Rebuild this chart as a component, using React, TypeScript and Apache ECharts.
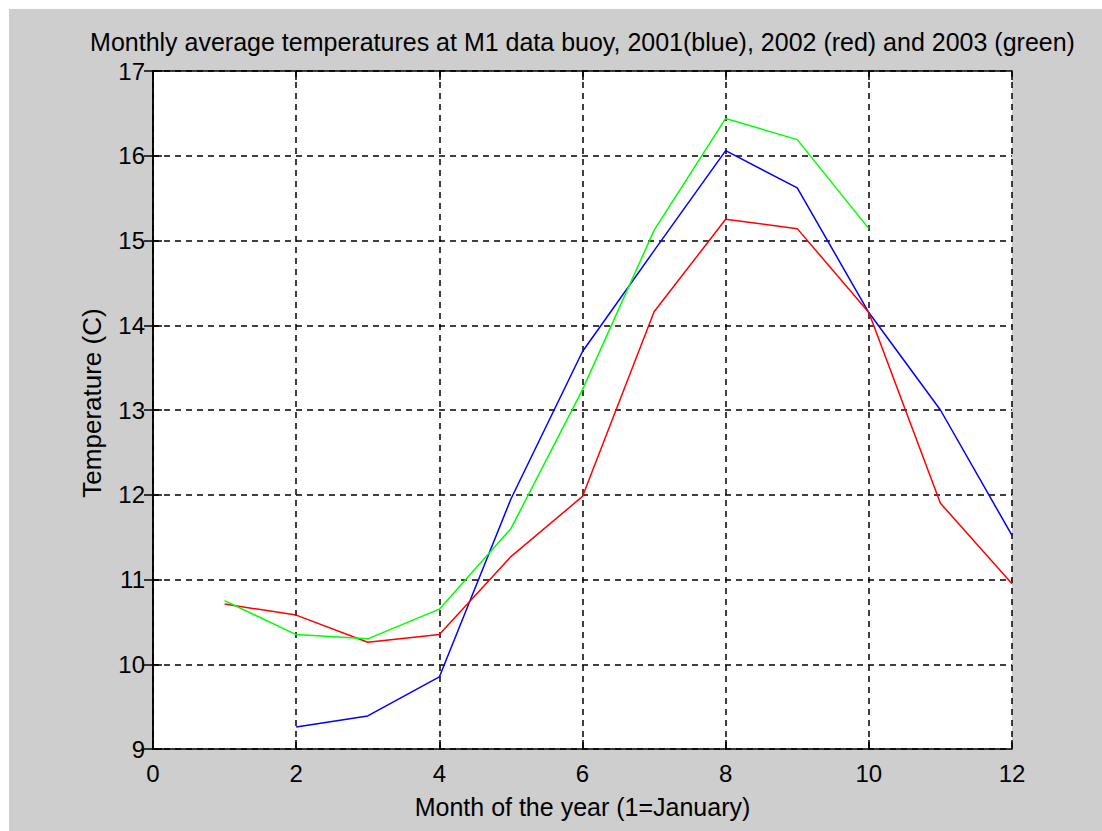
import React, { useEffect, useRef } from "react";
import * as echarts from "echarts";

const months2001 = [2, 3, 4, 5, 6, 7, 8, 9, 10, 11, 12];
const temps2001 = [9.26, 9.39, 9.85, 11.95, 13.69, 14.88, 16.06, 15.62, 14.15, 13.0, 11.52];
const months2002 = [1, 2, 3, 4, 5, 6, 7, 8, 9, 10, 11, 12];
const temps2002 = [10.71, 10.58, 10.26, 10.35, 11.27, 11.98, 14.16, 15.25, 15.14, 14.15, 11.9, 10.95];
const months2003 = [1, 2, 3, 4, 5, 6, 7, 8, 9, 10];
const temps2003 = [10.75, 10.35, 10.3, 10.65, 11.6, 13.24, 15.12, 16.44, 16.19, 15.14];

const titleText =
  "Monthly average temperatures at M1 data buoy, 2001(blue), 2002 (red) and 2003 (green)";
const xName = "Month of the year (1=January)";
const yName = "Temperature (C)";

const pairs = (xs: number[], ys: number[]) => xs.map((x, i) => [x, ys[i]]);

const FONT = "Liberation Sans";

export default function App() {
  const ref = useRef<HTMLDivElement>(null);
  useEffect(() => {
    if (!ref.current) return;
    const chart = echarts.init(ref.current, null, { renderer: "svg" });
    const grid = { left: 144, top: 62, right: 90, bottom: 82 };
    const axisLine = { show: true, lineStyle: { color: "#000", width: 1.5 } };
    const axisTick = { show: true, inside: true, length: 9, lineStyle: { color: "#000", width: 1.5 } };
    const splitLine = {
      show: true,
      lineStyle: { color: "#000", width: 1.5, type: [6, 5] as any },
    };
    chart.setOption({
      animation: false,
      backgroundColor: "#cecece",
      title: {
        text: titleText,
        left: 144 + (1093 - 144 - 90) / 2,
        textAlign: "center",
        top: 19,
        padding: 0,
        textStyle: { fontFamily: FONT, fontSize: 25, lineHeight: 27, fontWeight: "normal", color: "#000" },
      },
      grid: { ...grid, backgroundColor: "#fff", show: true, borderWidth: 0 },
      xAxis: [
        {
          type: "value",
          min: 0,
          max: 12,
          interval: 2,
          position: "bottom",
          name: xName,
          nameLocation: "middle",
          nameGap: 45,
          nameTextStyle: { fontFamily: FONT, fontSize: 25, color: "#000" },
          axisLine,
          axisTick,
          splitLine,
          axisLabel: { fontFamily: FONT, fontSize: 24, color: "#000", margin: 12 },
        },
        {
          type: "value",
          min: 0,
          max: 12,
          interval: 2,
          position: "top",
          axisLine,
          axisTick,
          splitLine: { show: false },
          axisLabel: { show: false },
        },
      ],
      yAxis: [
        {
          type: "value",
          min: 9,
          max: 17,
          interval: 1,
          position: "left",
          name: yName,
          nameLocation: "middle",
          nameGap: 48,
          nameRotate: 90,
          nameTextStyle: { fontFamily: FONT, fontSize: 26, color: "#000", padding: [0, 0, 0, 14] },
          axisLine,
          axisTick,
          splitLine,
          axisLabel: { fontFamily: FONT, fontSize: 24, lineHeight: 20, color: "#000", margin: 8 },
        },
        {
          type: "value",
          min: 9,
          max: 17,
          interval: 1,
          position: "right",
          axisLine,
          axisTick,
          splitLine: { show: false },
          axisLabel: { show: false },
        },
      ],
      series: [
        {
          type: "line",
          name: "2001",
          data: pairs(months2001, temps2001),
          symbol: "none",
          lineStyle: { color: "#0000ff", width: 1.5 },
        },
        {
          type: "line",
          name: "2002",
          data: pairs(months2002, temps2002),
          symbol: "none",
          lineStyle: { color: "#ff0000", width: 1.5 },
        },
        {
          type: "line",
          name: "2003",
          data: pairs(months2003, temps2003),
          symbol: "none",
          lineStyle: { color: "#00ff00", width: 1.5 },
        },
      ],
    });
    return () => chart.dispose();
  }, []);
  return (
    <div
      ref={ref}
      style={{ position: "absolute", left: 9, top: 9, width: 1093, height: 822 }}
    />
  );
}
